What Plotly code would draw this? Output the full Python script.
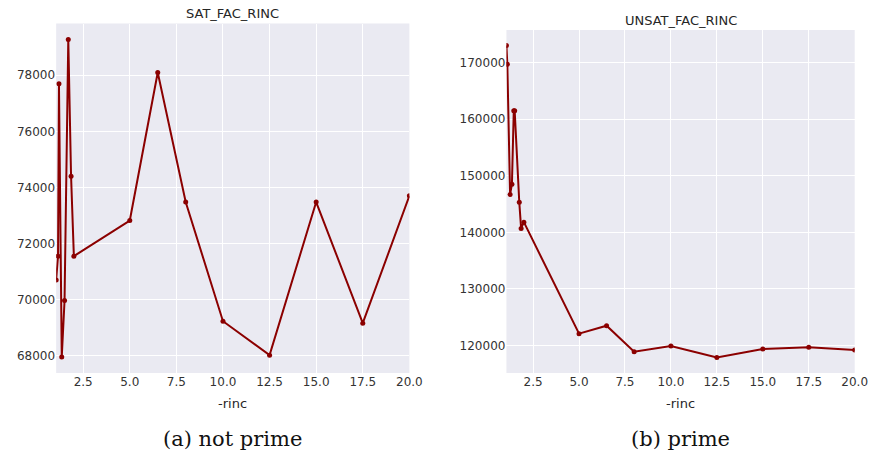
import plotly.graph_objects as go

# Left panel: SAT_FAC_RINC (not prime)
sat_x = [1.05, 1.15, 1.2, 1.35, 1.5, 1.7, 1.85, 2.0, 5.0, 6.5, 8.0, 10.0, 12.5, 15.0, 17.5, 20.0]
sat_y = [70700, 71550, 77700, 67950, 69970, 79280, 74400, 71550, 72820, 78100, 73480, 69230, 68020, 73480, 69160, 73700]

# Right panel: UNSAT_FAC_RINC (prime)
unsat_x = [1.05, 1.1, 1.25, 1.35, 1.45, 1.5, 1.75, 1.85, 2.0, 5.0, 6.5, 8.0, 10.0, 12.5, 15.0, 17.5, 20.0]
unsat_y = [173000, 169700, 146700, 148500, 161500, 161500, 145300, 140700, 141800, 122100, 123500, 118900, 119900, 117900, 119400, 119700, 119200]

x_ticks = [2.5, 5.0, 7.5, 10.0, 12.5, 15.0, 17.5, 20.0]
sat_yticks = [68000, 70000, 72000, 74000, 76000, 78000]
unsat_yticks = [120000, 130000, 140000, 150000, 160000, 170000]

titles = ["SAT_FAC_RINC", "UNSAT_FAC_RINC"]
captions = ["(a) not prime", "(b) prime"]
x_label = "-rinc"

W, H = 881, 456
line_color = "#8b0000"

def px_x(p):
    return p / W

def px_y(p):
    return 1 - p / H

fig = go.Figure()

fig.add_trace(go.Scatter(x=sat_x, y=sat_y, mode="lines+markers",
                         line=dict(color=line_color, width=2),
                         marker=dict(color=line_color, size=5),
                         xaxis="x", yaxis="y", showlegend=False, cliponaxis=True))
fig.add_trace(go.Scatter(x=unsat_x, y=unsat_y, mode="lines+markers",
                         line=dict(color=line_color, width=2),
                         marker=dict(color=line_color, size=5),
                         xaxis="x2", yaxis="y2", showlegend=False, cliponaxis=True))

def pad_range(vals, frac=0.05):
    lo, hi = min(vals), max(vals)
    d = (hi - lo) * frac
    return [lo - d, hi + d]

tick_font = dict(family="DejaVu Sans", size=12, color="#333333")
axis_common = dict(showgrid=True, gridcolor="white", gridwidth=1, zeroline=False,
                   showline=False, ticks="", tickfont=tick_font)

fig.update_layout(
    width=W, height=H,
    margin=dict(l=0, r=0, t=0, b=0),
    paper_bgcolor="white",
    plot_bgcolor="#eaeaf2",
    xaxis=dict(domain=[px_x(57), px_x(415.5)], range=[min(sat_x), max(sat_x)],
               tickvals=x_ticks, tickformat=".1f", anchor="y", **axis_common),
    yaxis=dict(domain=[px_y(373), px_y(23.5)], range=pad_range(sat_y),
               tickvals=sat_yticks, tickformat="d", anchor="x", **axis_common),
    xaxis2=dict(domain=[px_x(514), px_x(867.5)], range=[min(unsat_x), max(unsat_x)],
                tickvals=x_ticks, tickformat=".1f", anchor="y2", **axis_common),
    yaxis2=dict(domain=[px_y(373), px_y(30)], range=pad_range(unsat_y),
                tickvals=unsat_yticks, tickformat="d", anchor="x2", **axis_common),
)

annos = []
centers = [(57 + 415.5) / 2, (514 + 867.5) / 2]
title_y = [14, 20.5]
for i in range(2):
    annos.append(dict(text=titles[i], x=px_x(centers[i]), y=px_y(title_y[i]),
                      xref="paper", yref="paper", showarrow=False,
                      xanchor="center", yanchor="middle",
                      font=dict(family="DejaVu Sans", size=13, color="#262626")))
    annos.append(dict(text=x_label, x=px_x(centers[i]), y=px_y(403),
                      xref="paper", yref="paper", showarrow=False,
                      xanchor="center", yanchor="middle",
                      font=dict(family="DejaVu Sans", size=13, color="#262626")))
    annos.append(dict(text=captions[i], x=px_x(centers[i]), y=px_y(439),
                      xref="paper", yref="paper", showarrow=False,
                      xanchor="center", yanchor="middle",
                      font=dict(family="DejaVu Serif", size=21, color="#111111")))
fig.update_layout(annotations=annos)

fig.write_html("out.html")
